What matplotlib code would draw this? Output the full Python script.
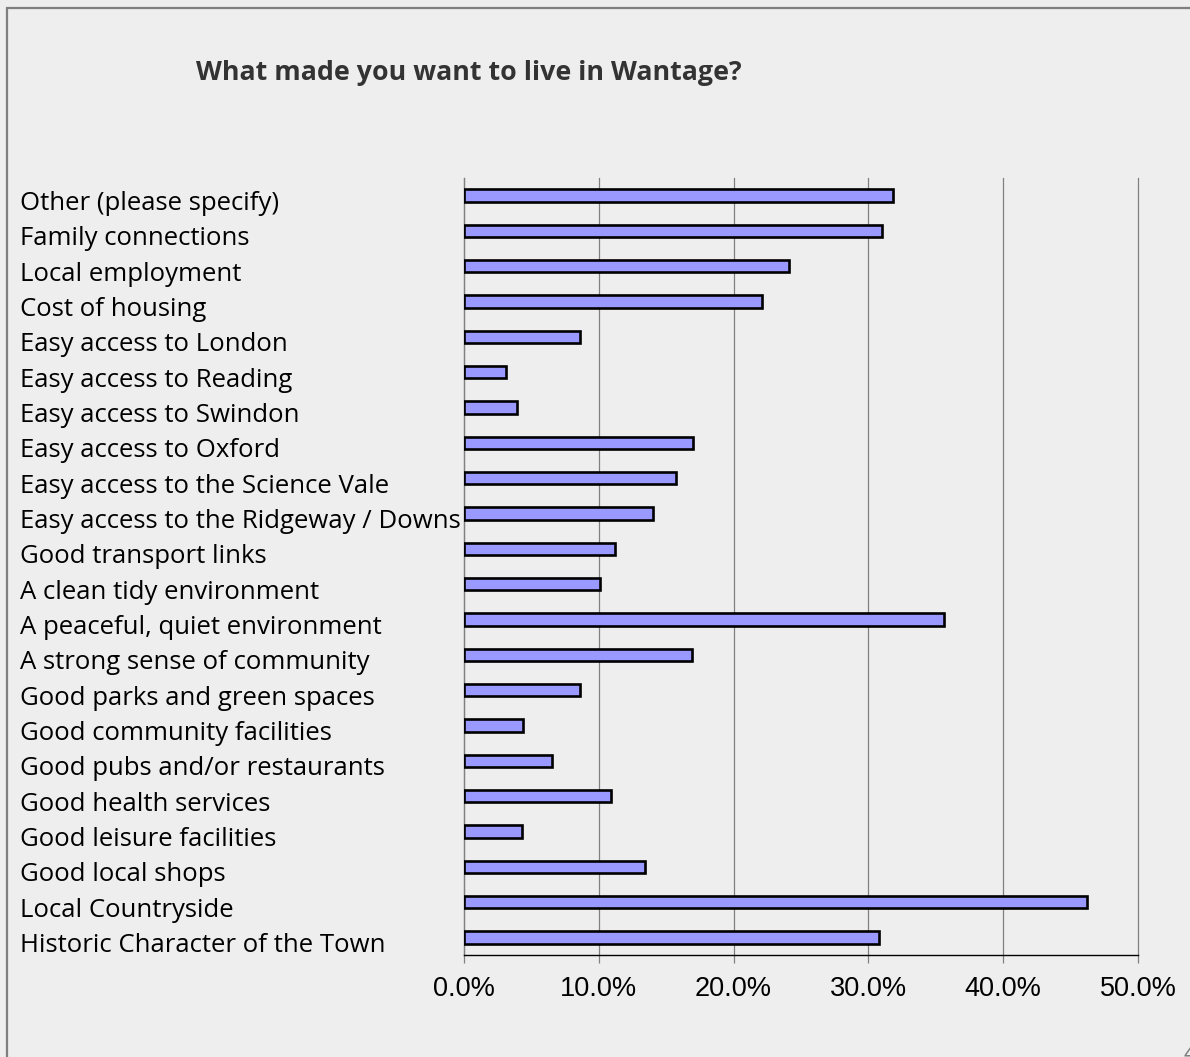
import matplotlib.pyplot as plt
from matplotlib.patches import Rectangle
from matplotlib.ticker import PercentFormatter
from matplotlib.transforms import ScaledTranslation

# Dane (od góry do dołu)
categories = [
    "Other (please specify)",
    "Family connections",
    "Local employment",
    "Cost of housing",
    "Easy access to London",
    "Easy access to Reading",
    "Easy access to Swindon",
    "Easy access to Oxford",
    "Easy access to the Science Vale",
    "Easy access to the Ridgeway / Downs",
    "Good transport links",
    "A clean tidy environment",
    "A peaceful, quiet environment",
    "A strong sense of community",
    "Good parks and green spaces",
    "Good community facilities",
    "Good pubs and/or restaurants",
    "Good health services",
    "Good leisure facilities",
    "Good local shops",
    "Local Countryside",
    "Historic Character of the Town",
]
percent = [31.8, 31.0, 24.1, 22.1, 8.6, 3.1, 3.9, 17.0, 15.7, 14.0, 11.2,
           10.1, 35.6, 16.9, 8.6, 4.4, 6.5, 10.9, 4.3, 13.4, 46.2, 30.8]
x_ticks = [0, 10, 20, 30, 40, 50]
title = "What made you want to live in Wantage?"

W, H = 1190, 1057
fig = plt.figure(figsize=(W / 100, H / 100), dpi=100, facecolor='#eeeeee')

# ramka slajdu
fig.patches.append(Rectangle((6.5 / W, -0.1), 1.2, 1 - 7.5 / H + 0.1,
                             transform=fig.transFigure, fill=False,
                             edgecolor='#7f7f7f', linewidth=1.6))

ax = fig.add_axes([464 / W, 1 - 955 / H, (1138 - 464) / W, (955 - 178) / H])
ax.set_facecolor('none')

y = list(range(len(categories)))
ax.barh(y, percent, height=0.35, color='#9999ff', edgecolor='black',
        linewidth=1.9, zorder=3)

ax.set_xlim(0, 50)
ax.set_ylim(len(categories) - 0.5, -0.5)
ax.set_xticks(x_ticks)
ax.xaxis.set_major_formatter(PercentFormatter(decimals=1))
ax.grid(axis='x', color='#808080', linewidth=0.9, zorder=0)
for line in ax.get_xgridlines():
    line.set_clip_on(False)

for s in ['top', 'right']:
    ax.spines[s].set_visible(False)
ax.spines['left'].set_color('#808080')
ax.spines['left'].set_linewidth(0.9)
ax.spines['bottom'].set_color('black')
ax.spines['bottom'].set_linewidth(1.0)

ax.tick_params(axis='x', length=6, width=0.9, color='#808080', pad=9)
for lab in ax.get_xticklabels():
    lab.set_fontfamily('Liberation Sans')
    lab.set_fontsize(19.5)

ax.set_yticks(y)
ax.set_yticklabels(categories, fontfamily='Open Sans', fontsize=18.5, ha='left')
ax.tick_params(axis='y', length=0, pad=(464 - 20) * 0.72)
shift = ScaledTranslation(0, -5 / 100, fig.dpi_scale_trans)
for lab in ax.get_yticklabels():
    lab.set_transform(lab.get_transform() + shift)

fig.text(196 / W, 1 - 73 / H, title, fontfamily='Open Sans', fontweight='bold',
         fontsize=19.3, color='#333333', ha='left', va='center')

# numer strony (ucięty)
fig.text(1183 / W, -8 / H, "4", fontfamily='Liberation Sans', fontsize=16,
         color='#808080', ha='left', va='bottom')

fig.savefig('out.png', dpi=100, facecolor=fig.get_facecolor())
